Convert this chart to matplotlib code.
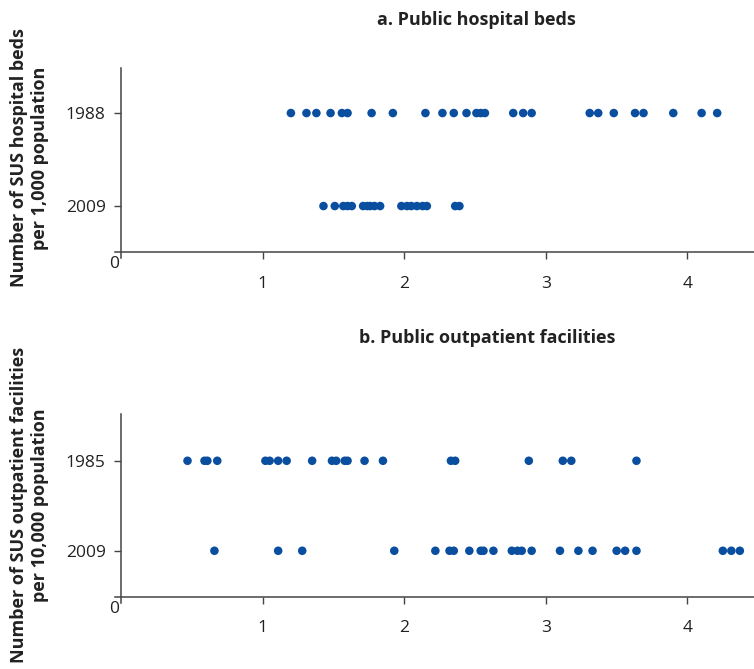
import matplotlib
matplotlib.use('Agg')
import matplotlib.pyplot as plt

plt.rcParams['font.family'] = ['Open Sans', 'DejaVu Sans']

# hospital beds per 1,000 population, by state
beds_1988 = [1.20, 1.31, 1.38, 1.48, 1.56, 1.60, 1.77, 1.92, 2.15, 2.27, 2.35,
             2.44, 2.51, 2.54, 2.57, 2.77, 2.84, 2.90, 3.31, 3.37, 3.48, 3.63,
             3.69, 3.90, 4.10, 4.21]
beds_2009 = [1.43, 1.51, 1.57, 1.60, 1.63, 1.71, 1.74, 1.76, 1.79, 1.83, 1.98,
             2.02, 2.05, 2.09, 2.13, 2.16, 2.36, 2.39]

# outpatient facilities per 10,000 population, by state
outp_1985 = [0.47, 0.59, 0.61, 0.68, 1.02, 1.05, 1.11, 1.17, 1.35, 1.49, 1.52,
             1.58, 1.60, 1.72, 1.85, 2.33, 2.36, 2.88, 3.12, 3.18, 3.64]
outp_2009 = [0.66, 1.11, 1.28, 1.93, 2.22, 2.32, 2.35, 2.46, 2.54, 2.56, 2.63,
             2.76, 2.80, 2.83, 2.90, 3.10, 3.23, 3.33, 3.50, 3.56, 3.64, 4.25,
             4.31, 4.37]

panel_a_years = ['1988', '2009']
panel_b_years = ['1985', '2009']
xticks = [1, 2, 3, 4]

DOT = '#0a4e9f'
AX = '#444444'
TXT = '#222222'

fig = plt.figure(figsize=(7.54, 6.69), dpi=100)


def panel(rect, top_vals, bot_vals, years, ylim, xaxis_y, title, title_xy, ylabel, label_y):
    ax = fig.add_axes(rect)
    ax.scatter(top_vals, [2] * len(top_vals), s=38, color=DOT, edgecolors='none', zorder=3)
    ax.scatter(bot_vals, [1] * len(bot_vals), s=38, color=DOT, edgecolors='none', zorder=3)
    ax.set_xlim(-0.04, 4.47)
    ax.set_ylim(*ylim)
    for s in ['top', 'right']:
        ax.spines[s].set_visible(False)
    ax.spines['left'].set_position(('data', 0))
    ax.spines['bottom'].set_position(('data', xaxis_y))
    for s in ['left', 'bottom']:
        ax.spines[s].set_color(AX)
        ax.spines[s].set_linewidth(1.1)
    ax.set_xticks(xticks)
    ax.set_xticklabels([str(t) for t in xticks])
    ax.set_yticks([2, 1])
    ax.set_yticklabels(years)
    ax.tick_params(axis='x', length=5, width=1, color=AX, pad=12, labelsize=12.5, labelcolor=TXT)
    ax.tick_params(axis='y', length=5, width=1, color=AX, pad=6, labelsize=12.5, labelcolor=TXT)
    # origin label sits just under the corner, above the other tick labels
    ax.annotate('0', xy=(-0.04, xaxis_y), xytext=(-1, -3), textcoords='offset points',
                ha='center', va='top', fontsize=12.5, color=TXT)
    fig.text(title_xy[0], title_xy[1], title, ha='center', va='center',
             fontsize=13, fontweight='bold', color=TXT)
    fig.text(0.039, label_y, ylabel, ha='center', va='center', rotation=90,
             multialignment='center', fontsize=13, fontweight='bold', color=TXT,
             linespacing=1.2)
    return ax


panel([0.1529, 0.6143, 0.8471, 0.2840], beds_1988, beds_2009, panel_a_years,
      (0.441, 2.484), 0.505, 'a. Public hospital beds', (476 / 754, 1 - 20 / 669),
      'Number of SUS hospital beds\nper 1,000 population', 1 - 158 / 669)

panel([0.1529, 0.0987, 0.8471, 0.2825], outp_1985, outp_2009, panel_b_years,
      (0.42, 2.52), 0.489, 'b. Public outpatient facilities', (487 / 754, 1 - 338 / 669),
      'Number of SUS outpatient facilities\nper 10,000 population', 1 - 505 / 669)

fig.savefig('out.png', dpi=100, facecolor='white')
